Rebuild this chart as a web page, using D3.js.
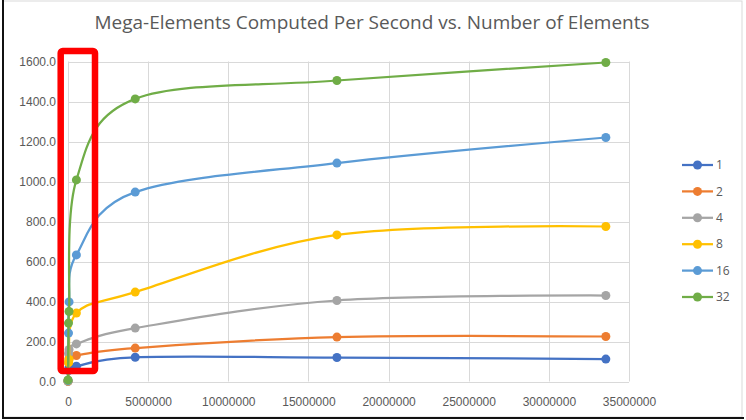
<!DOCTYPE html>
<html lang="en">
<head>
    <meta charset="UTF-8">
    <title>Mega-Elements Computed Per Second</title>
    <script src="https://cdnjs.cloudflare.com/ajax/libs/d3/7.8.5/d3.min.js"></script>
    <style>
        body {
            margin: 0;
            padding: 0;
            background: #fff;
            font-family: "Open Sans", Arial, sans-serif;
        }
        svg {
            display: block;
        }
        .tick-label {
            font-size: 12px;
            fill: #595959;
        }
        .grid line {
            stroke: #d9d9d9;
            stroke-width: 1px;
        }
    </style>
</head>
<body>
    <svg width="746" height="420"></svg>
    <script>
        // number of elements (x) and throughput per thread count
        const elements = [1024, 32768, 65536, 524288, 4194304, 16777216, 33554432];
        const threads = ["1", "2", "4", "8", "16", "32"];
        const s1 = [1, 55, 70, 76, 121, 120, 112];
        const s2 = [1, 95, 115, 130, 167, 222, 225];
        const s4 = [2, 140, 160, 188, 267, 405, 430];
        const s8 = [4, 95, 110, 342, 447, 733, 775];
        const s16 = [5, 242, 398, 633, 947, 1092, 1220];
        const s32 = [8, 292, 350, 1008, 1413, 1505, 1595];
        const yTicks = [0, 200, 400, 600, 800, 1000, 1200, 1400, 1600];
        const xTicks = [0, 5000000, 10000000, 15000000, 20000000, 25000000, 30000000, 35000000];
        const colors = ["#4472C4", "#ED7D31", "#A5A5A5", "#FFC000", "#5B9BD5", "#70AD47"];

        const allSeries = [s1, s2, s4, s8, s16, s32];

        const svg = d3.select("svg");

        const x = d3.scaleLinear().domain([0, 35000000]).range([68, 629]);
        const y = d3.scaleLinear().domain([0, 1600]).range([381.5, 61.5]);

        // outer frame
        svg.append("rect")
            .attr("x", 3).attr("y", 1)
            .attr("width", 739).attr("height", 416)
            .attr("fill", "#fff")
            .attr("stroke", "#d9d9d9");
        svg.append("line").attr("x1", 3).attr("x2", 3).attr("y1", 0).attr("y2", 418)
            .attr("stroke", "#111").attr("stroke-width", 2);
        svg.append("line").attr("x1", 2).attr("x2", 744).attr("y1", 418).attr("y2", 418)
            .attr("stroke", "#111").attr("stroke-width", 2);

        // title
        svg.append("text")
            .attr("x", 372).attr("y", 29)
            .attr("text-anchor", "middle")
            .attr("font-size", 18)
            .attr("fill", "#595959")
            .attr("textLength", 555)
            .attr("lengthAdjust", "spacingAndGlyphs")
            .text("Mega-Elements Computed Per Second vs. Number of Elements");

        // gridlines
        const grid = svg.append("g").attr("class", "grid");
        grid.selectAll(".h").data(yTicks).enter().append("line")
            .attr("x1", x(0)).attr("x2", x(35000000))
            .attr("y1", d => Math.round(y(d)) + 0.5).attr("y2", d => Math.round(y(d)) + 0.5);
        grid.selectAll(".v").data(xTicks).enter().append("line")
            .attr("x1", d => Math.round(x(d)) + 0.5).attr("x2", d => Math.round(x(d)) + 0.5)
            .attr("y1", y(1600)).attr("y2", y(0));

        // axes labels
        const yAxis = d3.axisLeft(y).tickValues(yTicks).tickFormat(d3.format(".1f")).tickSize(0).tickPadding(12);
        const gy = svg.append("g").attr("transform", "translate(68,0)").call(yAxis);
        gy.select(".domain").remove();
        gy.selectAll("text").attr("class", "tick-label").attr("font-family", null).attr("font-size", null);

        const xAxis = d3.axisBottom(x).tickValues(xTicks).tickFormat(d3.format("d")).tickSize(0).tickPadding(16);
        const gx = svg.append("g").attr("transform", "translate(0,381.5)").call(xAxis);
        gx.select(".domain").remove();
        gx.selectAll("text").attr("class", "tick-label").attr("font-family", null).attr("font-size", null);

        // series
        const line = d3.line()
            .x((d, i) => x(elements[i]))
            .y(d => y(d))
            .curve(d3.curveCardinal.tension(0));

        const series = svg.append("g").selectAll("g")
            .data(allSeries)
            .enter().append("g");

        series.append("path")
            .attr("d", d => line(d))
            .attr("fill", "none")
            .attr("stroke", (d, i) => colors[i])
            .attr("stroke-width", 2.25);

        series.each(function (vals, si) {
            d3.select(this).selectAll("circle")
                .data(vals)
                .enter().append("circle")
                .attr("cx", (d, i) => x(elements[i]))
                .attr("cy", d => y(d))
                .attr("r", 4.5)
                .attr("fill", colors[si]);
        });

        // legend
        const legend = svg.append("g").selectAll("g")
            .data(threads)
            .enter().append("g")
            .attr("transform", (d, i) => `translate(0,${165 + i * 26.4})`);
        legend.append("line")
            .attr("x1", 682).attr("x2", 713)
            .attr("stroke", (d, i) => colors[i])
            .attr("stroke-width", 2.25);
        legend.append("circle")
            .attr("cx", 697.5).attr("r", 4.5)
            .attr("fill", (d, i) => colors[i]);
        legend.append("text")
            .attr("x", 716).attr("dy", "0.35em")
            .attr("class", "tick-label")
            .attr("font-size", 13)
            .text(d => d);

        // highlight box
        svg.append("rect")
            .attr("x", 60.7).attr("y", 51)
            .attr("width", 34.3).attr("height", 320)
            .attr("rx", 2)
            .attr("fill", "none")
            .attr("stroke", "#ff0000")
            .attr("stroke-width", 6.5);
    </script>
</body>
</html>
